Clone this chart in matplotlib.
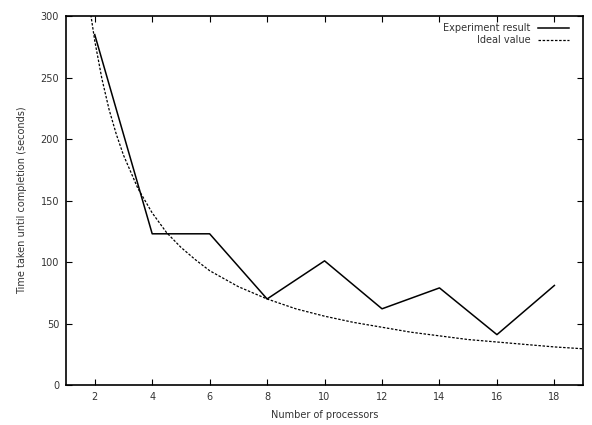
import matplotlib
matplotlib.use('Agg')
from matplotlib import pyplot as plt

processors = [2, 4, 6, 8, 10, 12, 14, 16, 18]
experiment = [285, 123, 123, 70, 101, 62, 79, 41, 81]

# Ideal curve, values
ideal_x = [1.8, 2, 2.25, 2.5, 2.75, 3, 3.5, 4, 4.5, 5, 5.5, 6, 7, 8, 9,
           10, 11, 12, 13, 14, 15, 16, 17, 18, 19]
ideal_y = [311, 280, 249, 224, 204, 187, 160, 140, 124, 112, 102, 93, 80,
           70, 62, 56, 51, 47, 43, 40, 37, 35, 33, 31, 29.5]

x_ticks = [2, 4, 6, 8, 10, 12, 14, 16, 18]
y_ticks = [0, 50, 100, 150, 200, 250, 300]

plt.rcParams['font.family'] = 'DejaVu Sans'
text_color = '#333333'

fig = plt.figure(figsize=(5.92, 4.25), dpi=100)
ax = fig.add_axes([0.1115, 0.094, 0.8735, 0.868])

ax.plot(processors, experiment, color='black', lw=1.1, label='Experiment result')
ax.plot(ideal_x, ideal_y, color='black', lw=0.9, linestyle=(0, (2, 1.3)),
        label='Ideal value')

ax.set_xlim(1, 19)
ax.set_ylim(0, 300)
ax.set_xticks(x_ticks)
ax.set_yticks(y_ticks)

ax.tick_params(axis='both', direction='in', length=4, width=0.8,
               top=True, right=True, labelsize=7, labelcolor=text_color, pad=5)
for spine in ax.spines.values():
    spine.set_linewidth(1.2)

ax.set_xlabel('Number of processors', fontsize=7, color=text_color, labelpad=6)
ax.set_ylabel('Time taken until completion (seconds)', fontsize=7,
              color=text_color, labelpad=10)

# legend: text on the left, line sample on the right (gnuplot style)
leg = ax.legend(loc='upper right', bbox_to_anchor=(0.985, 1.0), frameon=False,
                markerfirst=False, fontsize=7, handlelength=3.1,
                handletextpad=0.8, labelspacing=0.25, borderaxespad=0.3)
for t in leg.get_texts():
    t.set_color(text_color)
    t.set_ha('right')

fig.savefig('out.png', dpi=100)
